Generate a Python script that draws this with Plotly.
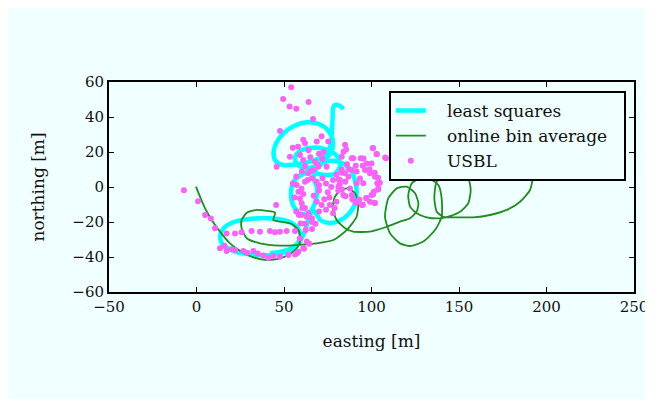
import plotly.graph_objects as go

# ---- data (metres) ----
ls_east = [84.0, 82.0, 79.0, 78.0, 77.8, 77.5, 77.2, 76.0, 72.0, 65.0, 57.0, 50.0, 45.5, 44.0, 45.5, 50.0,
           56.0, 63.0, 70.0, 75.5, 78.0, 77.0, 73.0, 67.0, 61.0, 57.0, 56.5, 60.0, 67.0, 74.0, 80.0, 82.0,
           79.0, 72.0, 65.0, 60.0, 55.5, 54.0, 55.5, 60.0, 65.0, 68.0, 69.0, 67.0, 68.0, 74.0, 81.0, 87.0,
           90.5, 91.5, 89.5, 84.0, 77.0, 71.0, 66.5, 64.0, 62.0, 59.5, 57.0, 50.0, 40.0, 30.0, 21.0, 15.0,
           13.5, 16.0, 23.0, 33.0, 44.0, 52.0, 57.5, 59.5, 57.0, 50.0, 42.0]
ls_north = [44.5, 46.3, 46.8, 45.0, 40.0, 34.0, 28.0, 22.0, 17.5, 14.5, 13.0, 12.5, 14.5, 19.0, 25.0, 31.0,
            35.0, 37.0, 36.0, 32.0, 26.0, 20.0, 15.5, 11.5, 11.0, 13.5, 17.5, 21.0, 22.5, 21.5, 18.0, 12.0,
            7.5, 7.0, 8.5, 7.0, 3.0, -4.0, -11.0, -15.5, -14.0, -8.0, -1.0, 5.0, 10.0, 14.5, 14.5, 11.0,
            4.0, -4.0, -12.0, -18.0, -20.5, -19.0, -13.0, -19.0, -25.0, -30.5, -34.0, -37.5, -39.0, -38.5, -36.5, -33.0,
            -28.0, -23.0, -19.5, -18.0, -18.0, -19.5, -23.0, -28.0, -33.0, -36.5, -38.0]

bin_east = [-0.3, 2.0, 4.9, 8.7, 13.4, 19.1, 25.8, 32.5, 40.1, 46.7, 52.5, 57.3, 59.5, 58.2, 54.4, 47.7,
            43.9, 44.9, 40.0, 34.4, 28.7, 25.8, 25.8, 28.7, 36.3, 47.7, 59.1, 68.7, 78.2, 85.8, 91.5, 92.4,
            90.6, 86.8, 83.0, 79.1, 77.8, 80.1, 84.9, 89.6, 99.1, 108.7, 116.3, 122.0, 125.8, 126.8, 124.9, 120.1,
            114.4, 109.6, 107.7, 110.6, 116.3, 122.0, 129.6, 136.3, 140.1, 140.1, 138.2, 133.4, 127.7, 123.0, 121.0, 122.0,
            125.8, 131.5, 139.1, 144.9, 150.6, 155.3, 156.7, 155.3, 150.6, 144.9, 140.1, 136.9, 135.9, 137.3, 141.0, 146.7,
            158.2, 167.7, 177.3, 184.9, 190.6, 192.5]
bin_north = [0.2, -5.5, -12.2, -18.9, -25.5, -32.2, -37.0, -40.2, -41.7, -41.1, -38.9, -35.0, -29.9, -24.6, -21.1, -19.8,
             -18.9, -14.7, -13.6, -13.1, -14.7, -18.9, -23.6, -29.3, -32.2, -33.5, -33.0, -32.2, -30.3, -24.6, -17.0, -9.3,
             -3.6, -0.8, -1.4, -5.5, -12.2, -18.9, -23.6, -25.5, -25.5, -22.7, -19.8, -17.9, -14.1, -9.3, -3.6, 0.2,
             -0.8, -6.5, -17.0, -26.5, -32.2, -33.7, -31.2, -24.6, -17.0, -6.5, 1.1, 4.6, 5.0, 2.1, -4.6, -11.2,
             -15.0, -17.3, -17.9, -16.6, -14.1, -9.3, -1.7, 5.0, 7.8, 8.2, 6.9, 2.1, -6.5, -14.1, -17.0, -17.3,
             -17.3, -16.0, -13.1, -8.4, -1.7, 6.9]

usbl_east = [-7.2, 0.9, 4.9, 8.2, 10.6, 45.5, 54.1, 49.5, 53.2, 57.0, 64.0, 66.6, 47.7, 71.5, 68.7, 75.3,
             84.9, 85.5,
             17.2, 22.0, 25.8, 31.5, 36.3, 42.0, 44.9, 47.7, 51.5, 56.3,
             13.4, 17.2, 22.0, 26.7, 32.5, 38.2, 43.9, 47.7, 52.5, 56.3, 58.2, 61.0, 63.0, 59.1, 62.4, 59.5,
             64.4, 61.4, 57.5, 29.0, 20.0, 16.0, 35.0, 41.0,
             53.4, 59.1, 61.0, 67.7, 69.6, 66.8, 63.9, 60.2, 74.4, 68.7, 57.2, 58.2, 59.1, 60.1, 68.7, 71.5,
             76.2, 80.0, 83.9, 87.7, 91.5, 62.0, 65.0, 70.0, 72.0, 64.0, 58.0, 55.0, 62.0, 66.0, 62.0, 60.0,
             61.0, 62.0, 64.0, 66.0, 70.0, 73.0, 75.0, 77.0, 78.0, 80.0, 83.0, 86.0, 72.0, 70.0, 74.0, 78.0,
             68.0, 66.0, 60.0, 63.0, 57.0, 56.0, 55.0, 57.0, 67.0, 70.0, 62.0, 61.0, 45.8, 65.0, 69.0, 72.5,
             83.0, 84.0, 88.7, 93.8, 100.7, 103.0, 108.3, 97.2, 100.0, 96.3, 99.1, 102.0, 103.3, 103.9, 101.4, 100.0,
             97.2, 99.1, 94.4, 91.5, 88.7, 86.8, 84.9, 82.0, 81.1, 93.4, 91.5, 88.7, 95.3, 101.9, 95.0, 89.6,
             95.4, 100.9, 102.9, 107.8, 101.9,
             81.2, 83.1, 87.1, 91.0, 95.0, 98.9, 101.9, 103.8, 104.8, 103.8, 100.9, 96.9, 93.0, 89.1, 85.1, 83.1,
             81.8, 91.0, 95.0, 79.0, 81.0, 85.0, 76.0, 74.0, 60.5, 58.5, 63.5, 66.0]
usbl_north = [-1.8, -8.2, -16.0, -18.0, -23.6, -10.3, 57.0, 50.3, 46.0, 44.7, 48.6, 38.9, 32.0, 29.0, 26.0, 26.0,
              24.1, 21.5,
              -26.5, -26.5, -25.9, -25.1, -25.5, -25.1, -25.9, -25.5, -25.1, -25.1,
              -35.0, -36.6, -36.0, -36.6, -36.6, -39.2, -39.4, -39.8, -38.9, -38.5, -37.0, -34.7, -31.2, -29.3, -24.6, -20.8,
              -32.4, -35.3, -37.8, -37.5, -35.5, -33.5, -38.0, -40.5,
              17.3, 18.3, 15.4, 14.5, 11.6, 9.7, 7.8, 8.8, 11.6, 3.0, 1.1, -2.7, -6.5, -9.3, -8.4, -10.3,
              -10.3, -8.4, -4.6, -0.8, 2.1, 12.0, 17.0, 19.0, 16.0, 21.0, 23.0, 22.5, 25.0, 5.0, 3.0, -1.0,
              -4.0, -12.0, -15.0, -18.0, -14.0, -7.0, -3.0, 0.0, 4.0, 7.0, 10.0, 13.0, 5.0, 1.0, -13.0, -15.0,
              -21.0, -24.0, -16.0, -17.0, -14.0, -6.0, 2.0, 6.0, -5.0, -2.0, -21.0, 27.0, 11.6, 9.0, 13.0, 20.0,
              17.3, 20.2, 16.4, 16.4, 22.1, 18.7, 16.4, 13.5, 13.5, 9.7, 7.8, 5.9, 2.1, -0.7, -2.6, -4.6,
              -6.5, -8.4, -10.3, -8.4, -4.6, 5.9, 7.8, 4.0, 0.2, 4.9, 8.8, 9.7, 2.1, -9.2, -10.1, 16.4,
              16.3, 22.3, 18.8, 16.9, -9.2,
              4.3, 8.2, 10.1, 12.1, 12.1, 10.1, 8.2, 5.3, 2.4, -1.4, -4.3, -6.3, -7.2, -7.2, -5.3, -1.4,
              1.5, -9.2, -10.1, -12.0, -2.0, 3.0, -6.0, 2.0, -12.0, -16.0, 4.0, -20.0]

x_ticks = [-50, 0, 50, 100, 150, 200, 250]
y_ticks = [-60, -40, -20, 0, 20, 40, 60]
series_names = ["least squares", "online bin average", "USBL"]

BG = "#F0FFFF"
FONT = "DejaVu Serif, serif"
PAD = "\u00a0\u00a0\u00a0"   # gap between legend sample and its label
TAIL = "\u00a0\u00a0"        # a little room at the legend's right edge

fig = go.Figure()
fig.add_trace(go.Scatter(x=ls_east, y=ls_north, mode="lines", name=PAD + series_names[0] + TAIL,
                         line=dict(color="#00FFFF", width=4.5, shape="spline", smoothing=0.8)))
fig.add_trace(go.Scatter(x=bin_east, y=bin_north, mode="lines", name=PAD + series_names[1] + TAIL,
                         line=dict(color="#228B22", width=1.8, shape="spline", smoothing=0.6)))
fig.add_trace(go.Scatter(x=usbl_east, y=usbl_north, mode="markers", name=PAD + series_names[2] + TAIL,
                         marker=dict(color="#F763F7", size=6, line=dict(width=0))))

axis_common = dict(showline=True, linewidth=2, linecolor="black", mirror="allticks",
                   ticks="inside", ticklen=5, tickwidth=1, tickcolor="black",
                   showgrid=False, zeroline=False, automargin=False,
                   tickfont=dict(family=FONT, size=15, color="#111111"))

fig.update_xaxes(range=[-50, 250], tickvals=x_ticks,
                 title=dict(text="easting [m]", font=dict(family=FONT, size=17, color="#111111"), standoff=20),
                 **axis_common)
fig.update_yaxes(range=[-60, 60], tickvals=y_ticks,
                 title=dict(text="northing [m]", font=dict(family=FONT, size=17, color="#111111"), standoff=23),
                 **axis_common)

fig.update_layout(
    width=645, height=391,
    margin=dict(l=101, r=19, t=74, b=107),
    paper_bgcolor=BG, plot_bgcolor=BG,
    showlegend=True,
    legend=dict(x=0.533, y=0.957, xanchor="left", yanchor="top",
                bgcolor=BG, bordercolor="black", borderwidth=2,
                font=dict(family=FONT, size=17, color="#111111")),
)

fig.write_html("out.html")
